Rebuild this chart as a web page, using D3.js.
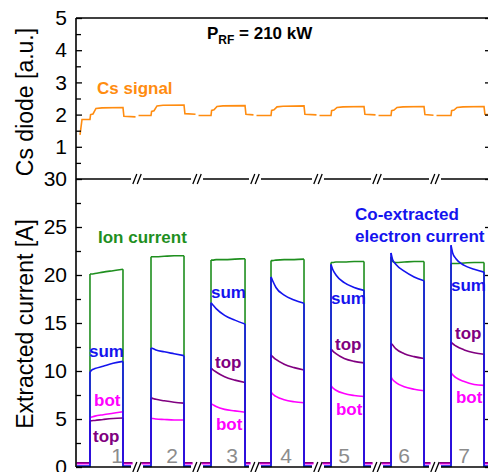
<!DOCTYPE html>
<html>
<head>
<meta charset="utf-8">
<script src="https://cdn.jsdelivr.net/npm/d3@7"></script>
<style>
  body { margin: 0; background: #fff; }
  svg { display: block; font-family: Arial, "Liberation Sans", sans-serif; }
</style>
</head>
<body>
<svg id="chart" width="488" height="472"></svg>
<script>
// ---- data (x in "pulse slot" units, y in A or a.u.) ----
const pulseLabels = ["1", "2", "3", "4", "5", "6", "7"];
const pulseStart = [0.233, 1.25, 2.25, 3.25, 4.25, 5.25, 6.25];
const pulseEnd = [0.783, 1.8, 2.817, 3.8, 4.8, 5.8, 6.8];
const breaks = [1.017, 2.017, 2.983, 4.033, 5.017, 5.983];
const phase = [0, 0.05, 0.15, 0.4, 0.7, 1]; // where in each pulse the values below are read

const ionCurrent = [
  [20.1, 20.1, 20.15, 20.3, 20.45, 20.6],
  [21.9, 21.9, 21.9, 21.95, 22.0, 22.0],
  [21.55, 21.55, 21.6, 21.6, 21.65, 21.7],
  [21.5, 21.5, 21.55, 21.6, 21.6, 21.65],
  [21.3, 21.3, 21.35, 21.35, 21.4, 21.4],
  [21.9, 21.4, 21.3, 21.35, 21.4, 21.4],
  [21.2, 21.2, 21.2, 21.25, 21.3, 21.3]
];
const sumCurrent = [
  [9.9, 10.1, 10.25, 10.5, 10.8, 11.0],
  [12.4, 12.35, 12.2, 12.0, 11.8, 11.6],
  [17.1, 16.9, 16.5, 15.8, 15.3, 14.9],
  [19.8, 19.4, 18.7, 17.9, 17.4, 17.05],
  [21.1, 20.6, 20.0, 19.2, 18.7, 18.4],
  [22.3, 21.6, 21.1, 20.4, 19.8, 19.4],
  [23.1, 22.3, 21.7, 21.0, 20.6, 20.3]
];
const topCurrent = [
  [4.8, 4.82, 4.85, 4.95, 5.05, 5.1],
  [7.2, 7.15, 7.05, 6.9, 6.75, 6.65],
  [10.3, 10.15, 9.9, 9.4, 9.05, 8.8],
  [11.7, 11.5, 11.2, 10.7, 10.35, 10.1],
  [12.3, 12.1, 11.8, 11.3, 11.0, 10.85],
  [12.9, 12.7, 12.3, 11.8, 11.5, 11.3],
  [13.05, 12.85, 12.6, 12.2, 11.9, 11.75]
];
const botCurrent = [
  [5.15, 5.2, 5.3, 5.45, 5.6, 5.75],
  [5.05, 5.05, 5.0, 4.95, 4.9, 4.9],
  [6.6, 6.5, 6.3, 6.0, 5.85, 5.7],
  [7.85, 7.6, 7.35, 7.0, 6.8, 6.7],
  [8.5, 8.25, 8.0, 7.65, 7.45, 7.35],
  [9.4, 9.1, 8.8, 8.35, 8.1, 7.95],
  [9.85, 9.6, 9.3, 8.9, 8.6, 8.5]
];
const baseIon = 0.05, baseSum = 0.1, baseTop = 0.45, baseBot = 0.35;

// Cs diode signal per segment
const csStartUp = [[0.067, 1.37], [0.1, 1.85]];
const csPre = [1.85, 1.97, 1.97, 1.97, 1.97, 1.97, 1.97];
const csStep = [2.0, 2.1, 2.13, 2.13, 2.12, 2.12, 2.12];
const csPlateau = [2.22, 2.3, 2.28, 2.27, 2.25, 2.25, 2.25];
const csPost = [1.94, 2.02, 2.0, 2.0, 2.0, 1.99, 2.0];

const topTicks = [1, 2, 3, 4, 5];
const topMinor = [0.5, 1.5, 2.5, 3.5, 4.5];
const botTicks = [0, 5, 10, 15, 20, 25, 30];
const botMinor = [2.5, 7.5, 12.5, 17.5, 22.5, 27.5];

// label anchors: [slot, value]
const sumLabels = [[0.217, 11.5], [2.25, 17.6], [4.25, 17.0], [6.25, 18.3]];
const topLabels = [[0.283, 2.6], [2.317, 10.3], [4.317, 12.2], [6.317, 13.3]];
const botLabels = [[0.3, 6.35], [2.333, 3.9], [4.333, 5.4], [6.333, 6.65]];
const numberX = [0.683, 1.6, 2.6, 3.5, 4.467, 5.467, 6.467];

// ---- layout ----
const svg = d3.select("#chart");
const left = 76, right = 489, topY = 18, midY = 179, botY = 467;
const x = d3.scaleLinear().domain([0, 6.883]).range([left, right]);
const yCs = d3.scaleLinear().domain([0, 5]).range([midY, topY]);
const yI = d3.scaleLinear().domain([0, 30]).range([botY, midY]);

const cOrange = "#ff8c10", cGreen = "#1f8f1f", cBlue = "#1414ee",
      cPurple = "#800080", cMagenta = "#ff00ff", cGray = "#8c8c8c";

const gap = 0.075;
const segStart = k => k === 0 ? 0.01 : breaks[k - 1] + gap;
const segEnd = k => k === 6 ? 6.9 : breaks[k] - gap;

// ---- traces ----
const lineLin = d3.line().x(d => x(d[0])).y(d => yI(d[1]));
const lineCurve = d3.line().x(d => x(d[0])).y(d => yI(d[1])).curve(d3.curveMonotoneX);

function drawSeries(values, base, color) {
  const g = svg.append("g").attr("fill", "none").attr("stroke", color).attr("stroke-width", 1.6);
  values.forEach((vals, k) => {
    const ps = pulseStart[k], pe = pulseEnd[k];
    g.append("path").attr("d", lineLin([[segStart(k), base], [ps, base], [ps, vals[0]]]));
    g.append("path").attr("d", lineCurve(vals.map((v, i) => [ps + phase[i] * (pe - ps), v])));
    g.append("path").attr("d", lineLin([[pe, vals[vals.length - 1]], [pe, base], [segEnd(k), base]]));
  });
}
drawSeries(ionCurrent, baseIon, cGreen);
drawSeries(botCurrent, baseBot, cMagenta);
drawSeries(topCurrent, baseTop, cPurple);
drawSeries(sumCurrent, baseSum, cBlue);

// Cs signal
const lineCs = d3.line().x(d => x(d[0])).y(d => yCs(d[1]));
const csGap = 0.025;
pulseStart.forEach((ps, k) => {
  const pe = pulseEnd[k];
  const s = k === 0 ? csStartUp[0][0] : breaks[k - 1] + csGap;
  const e = k === 6 ? 6.9 : breaks[k] - csGap;
  let pts = k === 0 ? csStartUp.slice() : [[s, csPre[k]]];
  pts = pts.concat([
    [ps, csPre[k]], [ps + 0.01, csStep[k]], [ps + 0.05, csStep[k] + 0.02],
    [ps + 0.1, csPlateau[k] - 0.03], [ps + 0.2, csPlateau[k] - 0.01],
    [pe, csPlateau[k]], [pe + 0.015, csPost[k] + 0.01], [e, csPost[k] - 0.01]
  ]);
  svg.append("path").attr("d", lineCs(pts))
    .attr("fill", "none").attr("stroke", cOrange).attr("stroke-width", 1.6);
});

// ---- axes ----
function styleAxis(g) {
  g.select(".domain").remove();
  g.selectAll("line").attr("stroke", "#000").attr("stroke-width", 1.3);
  g.selectAll("text").attr("font-family", "Arial, 'Liberation Sans', sans-serif")
    .attr("font-size", 21).attr("fill", "#000");
}
const fmt = d3.format("d");
svg.append("g").attr("transform", `translate(${left},0)`)
  .call(d3.axisLeft(yCs).tickValues(topTicks).tickFormat(fmt).tickSize(-6).tickPadding(9)).call(styleAxis);
svg.append("g").attr("transform", `translate(${left},0)`)
  .call(d3.axisLeft(yCs).tickValues(topMinor).tickSize(-5).tickFormat("")).call(styleAxis);
svg.append("g").attr("transform", `translate(${left},0)`)
  .call(d3.axisLeft(yI).tickValues(botTicks).tickFormat(fmt).tickSize(-6).tickPadding(9)).call(styleAxis);
svg.append("g").attr("transform", `translate(${left},0)`)
  .call(d3.axisLeft(yI).tickValues(botMinor).tickSize(-5).tickFormat("")).call(styleAxis);
svg.append("g").attr("transform", `translate(${right},0)`)
  .call(d3.axisRight(yCs).tickValues(topTicks).tickSize(-4).tickFormat("")).call(styleAxis);
svg.append("g").attr("transform", `translate(${right},0)`)
  .call(d3.axisRight(yI).tickValues(botTicks).tickSize(-4).tickFormat("")).call(styleAxis);

const frame = svg.append("g").attr("stroke", "#000").attr("stroke-width", 1.6);
frame.append("line").attr("x1", left).attr("x2", left).attr("y1", topY).attr("y2", botY);
frame.append("line").attr("x1", left).attr("x2", 490).attr("y1", topY).attr("y2", topY);
[midY, botY].forEach(yy => {
  frame.append("line").attr("x1", left).attr("x2", 490).attr("y1", yy).attr("y2", yy);
});

// axis breaks "//"
[midY, botY].forEach(yy => {
  breaks.forEach(b => {
    const cx = x(b);
    svg.append("rect").attr("x", cx - 6).attr("y", yy - 2).attr("width", 12).attr("height", 4).attr("fill", "#fff");
    [-2.2, 2.2].forEach(off => {
      svg.append("line")
        .attr("x1", cx + off - 2).attr("y1", yy + 5)
        .attr("x2", cx + off + 2).attr("y2", yy - 5)
        .attr("stroke", "#000").attr("stroke-width", 1.3);
    });
  });
});

// ---- texts ----
svg.append("text").attr("transform", "translate(33,102) rotate(-90)")
  .attr("text-anchor", "middle").attr("font-size", 23).text("Cs diode [a.u.]");
svg.append("text").attr("transform", "translate(33,324) rotate(-90)")
  .attr("text-anchor", "middle").attr("font-size", 23).text("Extracted current [A]");

const prf = svg.append("text").attr("x", x(2.183)).attr("y", yCs(4.35))
  .attr("font-size", 17).attr("font-weight", "bold");
prf.append("tspan").text("P");
prf.append("tspan").attr("font-size", 12).attr("dy", 5).text("RF");
prf.append("tspan").attr("dy", -5).text(" = 210 kW");

svg.append("text").attr("x", x(0.35)).attr("y", yCs(2.64)).attr("font-size", 17)
  .attr("font-weight", "bold").attr("fill", cOrange).text("Cs signal");
svg.append("text").attr("x", x(0.367)).attr("y", yI(23.36)).attr("font-size", 17)
  .attr("font-weight", "bold").attr("fill", cGreen).text("Ion current");
svg.append("text").attr("x", x(4.65)).attr("y", yI(25.7)).attr("font-size", 17)
  .attr("font-weight", "bold").attr("fill", cBlue).text("Co-extracted");
svg.append("text").attr("x", x(4.65)).attr("y", yI(23.47)).attr("font-size", 17)
  .attr("font-weight", "bold").attr("fill", cBlue).text("electron current");

function seriesLabels(list, txt, color) {
  svg.append("g").selectAll("text").data(list).join("text")
    .attr("x", d => x(d[0])).attr("y", d => yI(d[1]))
    .attr("font-size", 17).attr("font-weight", "bold").attr("fill", color).text(txt);
}
seriesLabels(sumLabels, "sum", cBlue);
seriesLabels(topLabels, "top", cPurple);
seriesLabels(botLabels, "bot", cMagenta);

svg.append("g").selectAll("text").data(pulseLabels).join("text")
  .attr("x", (d, i) => x(numberX[i])).attr("y", yI(0.4))
  .attr("text-anchor", "middle").attr("font-size", 21).attr("fill", cGray).text(d => d);
</script>
</body>
</html>
